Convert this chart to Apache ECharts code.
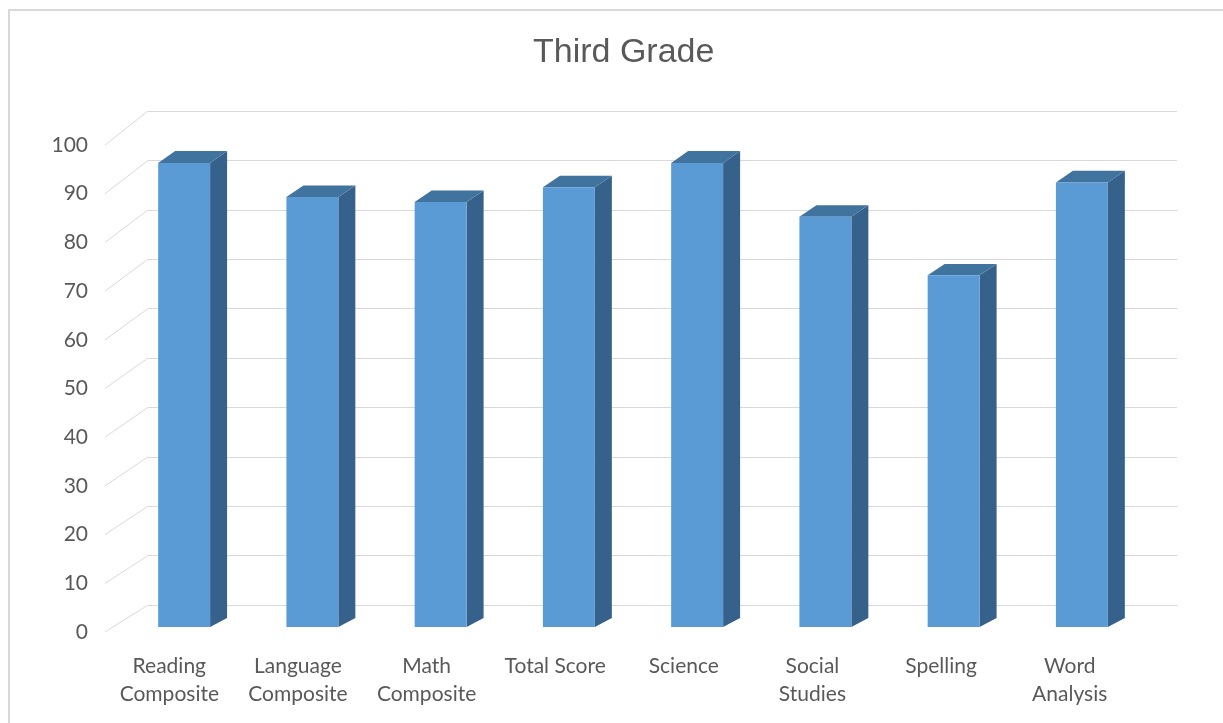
<!DOCTYPE html>
<html>
<head>
<meta charset="utf-8">
<script src="https://cdn.jsdelivr.net/npm/echarts@6/dist/echarts.min.js"></script>
<style>
  html, body { margin: 0; padding: 0; background: #fff; }
  #main { width: 1223px; height: 723px; }
</style>
</head>
<body>
<div id="main"></div>
<script>
var categories = ["Reading\nComposite", "Language\nComposite", "Math\nComposite", "Total Score",
  "Science", "Social\nStudies", "Spelling", "Word\nAnalysis"];
var scores = [95, 88, 87, 90, 95, 84, 72, 91];
var yTicks = [0, 10, 20, 30, 40, 50, 60, 70, 80, 90, 100];

var textColor = "#595959";
var gridColor = "#d9d9d9";

// 3D bar: front face + right side + top
function renderBar(params, api) {
  var idx = api.value(0);
  var v = api.value(1);
  var base = api.coord([idx, 0]);
  var top = api.coord([idx, v]);
  var bw = api.size([1, 0])[0] * 0.405;
  var x0 = base[0] - bw / 2, x1 = base[0] + bw / 2;
  var dx = 17, dyB = -9, dyT = -9 - 3 * v / 100;
  return {
    type: "group",
    children: [
      {
        type: "polygon",
        shape: { points: [[x1, base[1]], [x1 + dx, base[1] + dyB], [x1 + dx, top[1] + dyT], [x1, top[1]]] },
        style: { fill: "#36618a" }
      },
      {
        type: "polygon",
        shape: { points: [[x0, top[1]], [x1, top[1]], [x1 + dx, top[1] + dyT], [x0 + dx, top[1] + dyT]] },
        style: { fill: "#41739f" }
      },
      {
        type: "rect",
        shape: { x: x0, y: top[1], width: bw, height: base[1] - top[1] },
        style: { fill: "#5b9bd5" }
      }
    ]
  };
}

// diagonal lines from back wall to the front label plane
function renderDiag(params, api) {
  var v = api.value(0);
  var p = api.coord([0, v]);
  var left = params.coordSys.x;
  return {
    type: "line",
    shape: { x1: left, y1: p[1], x2: left - 43, y2: p[1] + 27 + 7 * v / 100 },
    style: { stroke: gridColor, lineWidth: 1 }
  };
}

var myChart = echarts.init(document.getElementById("main"));
myChart.setOption({
  animation: false,
  title: {
    text: "Third Grade",
    left: 528,
    top: 31,
    textStyle: { color: textColor, fontSize: 34, fontWeight: "normal", fontFamily: "Liberation Sans" }
  },
  graphic: [{
    type: "rect",
    shape: { x: 9, y: 10, width: 1400, height: 900 },
    style: { fill: "none", stroke: gridColor, lineWidth: 2 },
    silent: true
  }],
  grid: [
    { left: 148, right: 46, top: 111, bottom: 118 },
    { left: 105, right: 89, top: 145, bottom: 91 },
    { left: 120, right: 77, top: 138.5, bottom: 96 }
  ],
  xAxis: [
    { gridIndex: 0, type: "category", data: categories, show: false },
    {
      gridIndex: 1, type: "category", data: categories,
      axisLine: { show: false }, axisTick: { show: false },
      axisLabel: { color: textColor, fontSize: 21, lineHeight: 28, margin: 20, interval: 0, fontFamily: "Lato" }
    },
    { gridIndex: 2, type: "category", data: categories, show: false }
  ],
  yAxis: [
    {
      gridIndex: 0, type: "value", min: 0, max: 100, interval: 10,
      axisLine: { show: false }, axisTick: { show: false }, axisLabel: { show: false },
      splitLine: { lineStyle: { color: gridColor, width: 1 } }
    },
    {
      gridIndex: 1, type: "value", min: 0, max: 100, interval: 10,
      axisLine: { show: false }, axisTick: { show: false }, splitLine: { show: false },
      axisLabel: { color: textColor, fontSize: 21, margin: 17, fontFamily: "Lato" }
    },
    {
      gridIndex: 2, type: "value", min: 0, max: 100, interval: 10,
      show: false, splitLine: { show: false }
    }
  ],
  series: [
    {
      type: "custom",
      xAxisIndex: 0, yAxisIndex: 0,
      renderItem: renderDiag,
      clip: false,
      encode: { y: 0 },
      data: yTicks.map(function (t) { return [t]; }),
      z: 1
    },
    {
      type: "custom",
      xAxisIndex: 2, yAxisIndex: 2,
      renderItem: renderBar,
      clip: false,
      encode: { x: 0, y: 1 },
      data: scores.map(function (s, i) { return [i, s]; }),
      z: 5
    }
  ]
});
</script>
</body>
</html>
